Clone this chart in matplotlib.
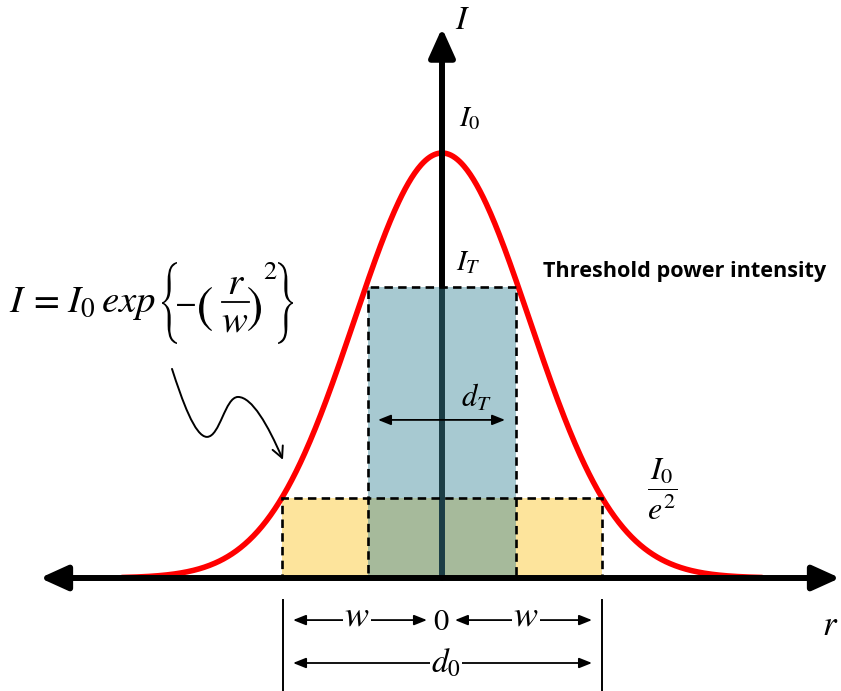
import os
import numpy as np
import matplotlib
matplotlib.use("Agg")
import matplotlib.pyplot as plt
from matplotlib.patches import Rectangle, FancyArrowPatch, PathPatch
from matplotlib.path import Path
from matplotlib.textpath import TextPath
from matplotlib.font_manager import FontProperties
import matplotlib.transforms as mtransforms

plt.rcParams['mathtext.fontset'] = 'stix'

# ---- values (units: r in w, I in I0) ----
w = 1.0                 # beam radius
I0 = 1.0                # peak intensity
beam_scale = 0.775      # Gaussian 1/e width of the drawn curve (in w)
I_T = 0.685             # threshold intensity level
dT_half = 0.4625        # half width of threshold region
I_e2 = 0.188            # level of the I0/e^2 box as drawn
r_range = (-2.0, 2.0)   # extent of the drawn curve

# annotation geometry (data units)
x_axis_ends = (-2.5125, 2.4875)
y_axis_top = 1.294
w_row_y = -0.099
d0_row_y = -0.2
d0_ends = (-0.931, 0.9375)
w_left_ends = (-0.931, -0.094)
w_right_ends = (0.081, 0.9375)
dT_arrow_y = 0.372
dT_arrow_ends = (-0.40, 0.394)
tick_lines_x = (-0.994, 1.0)
tick_lines_y = (-0.052, -0.27)
squiggle = [(-1.6875, 0.492), (-1.625, 0.419), (-1.544, 0.332), (-1.469, 0.332),
            (-1.388, 0.332), (-1.356, 0.426), (-1.275, 0.426),
            (-1.188, 0.426), (-1.088, 0.360), (-0.994, 0.278)]

X_PER_W = 160.0   # layout scale used to place the formula pieces
Y_PER_I = 425.0
X0_PX, Y0_PX = 442.0, 578.0


def lx(p):
    return (p - X0_PX) / X_PER_W


def ly(p):
    return (Y0_PX - p) / Y_PER_I


fig = plt.figure(figsize=(8.41, 6.91), dpi=100)
ax = fig.add_axes([0, 0, 1, 1])
ax.set_xlim(lx(0), lx(841))
ax.set_ylim(ly(691), ly(0))
ax.axis('off')

dash = (0, (3.2, 2.0))

# yellow 1/e^2 box
ax.add_patch(Rectangle((-w, 0), 2 * w, I_e2, facecolor='#fde49c', edgecolor='none', zorder=1))
# curve
r = np.linspace(r_range[0], r_range[1], 600)
I = I0 * np.exp(-(r / beam_scale) ** 2)
ax.plot(r, I, color='#ff0000', lw=4.0, zorder=2, solid_capstyle='round')

# y axis
ax.annotate('', xy=(0, y_axis_top), xytext=(0, 0),
            arrowprops=dict(arrowstyle='-|>,head_length=0.8,head_width=0.36',
                            mutation_scale=22, lw=4.3, color='black',
                            shrinkA=0, shrinkB=0), zorder=3)
# threshold box (translucent)
ax.add_patch(Rectangle((-dT_half, 0), 2 * dT_half, I_T,
                       facecolor=(60 / 255, 136 / 255, 154 / 255, 0.45),
                       edgecolor='none', zorder=4))
# dashed outlines
ax.add_patch(Rectangle((-w, 0), 2 * w, I_e2, fill=False, edgecolor='black',
                       lw=1.9, linestyle=dash, zorder=5))
ax.add_patch(Rectangle((-dT_half, 0), 2 * dT_half, I_T, fill=False, edgecolor='black',
                       lw=1.9, linestyle=dash, zorder=5))
# x axis
ax.annotate('', xy=(x_axis_ends[1], 0), xytext=(x_axis_ends[0], 0),
            arrowprops=dict(arrowstyle='<|-|>,head_length=0.75,head_width=0.34',
                            mutation_scale=22, lw=4.3, color='black',
                            shrinkA=0, shrinkB=0), zorder=6)

small = dict(arrowstyle='<|-|>,head_length=0.55,head_width=0.22', mutation_scale=14,
             lw=1.3, color='black', shrinkA=0, shrinkB=0)
# dT arrow
ax.annotate('', xy=(dT_arrow_ends[1], dT_arrow_y), xytext=(dT_arrow_ends[0], dT_arrow_y),
            arrowprops=small, zorder=7)
# w arrows and d0 arrow
for ends, yy in [(w_left_ends, w_row_y), (w_right_ends, w_row_y), (d0_ends, d0_row_y)]:
    ax.annotate('', xy=(ends[1], yy), xytext=(ends[0], yy), arrowprops=small, zorder=7)
# tick lines
for xx in tick_lines_x:
    ax.plot([xx, xx], list(tick_lines_y), color='black', lw=1.4, zorder=7)

# squiggle arrow
verts = squiggle
codes = [Path.MOVETO] + [Path.CURVE4] * 9
ax.add_patch(FancyArrowPatch(path=Path(verts, codes),
                             arrowstyle='->,head_length=0.5,head_width=0.25',
                             mutation_scale=16, lw=1.4, color='black', zorder=7))

# text
bg = dict(facecolor='white', edgecolor='none', pad=1.0)
ax.text(0.131, 1.313, r'$I$', fontsize=24, ha='center', va='center')
ax.text(0.175, 1.082, r'$I_0$', fontsize=21, ha='center', va='center')
ax.text(0.1625, 0.743, r'$I_T$', fontsize=21, ha='center', va='center')
ax.text(0.631, 0.72, 'Threshold power intensity', fontsize=15.6, fontweight='bold',
        family='Open Sans', ha='left', va='center')
ax.text(0.2125, 0.426, r'$d_T$', fontsize=22, ha='center', va='center', zorder=8)
ax.text(1.375, 0.209, r'$\dfrac{I_0}{e^2}$', fontsize=23, ha='center', va='center')
ax.text(2.425, -0.111, r'$r$', fontsize=25, ha='center', va='center')
ax.text(-0.006, -0.1035, r'$0$', fontsize=22, ha='center', va='center')
ax.text(-0.53, w_row_y + 0.01, r'$w$', fontsize=26, ha='center', va='center', bbox=bg, zorder=8)
ax.text(0.525, w_row_y + 0.01, r'$w$', fontsize=26, ha='center', va='center', bbox=bg, zorder=8)
ax.text(0.025, d0_row_y, r'$d_0$', fontsize=24, ha='center', va='center', bbox=bg, zorder=8)

# ---- formula  I = I0 exp{ -(r/w)^2 } ----
ttf_dir = os.path.join(matplotlib.get_data_path(), 'fonts', 'ttf')
big_font = FontProperties(fname=os.path.join(ttf_dir, 'STIXSizThreeSymReg.ttf'))
reg_font = FontProperties(fname=os.path.join(ttf_dir, 'STIXGeneral.ttf'))


def glyph(ch, prop, x0, x1, y0, y1):
    tp = TextPath((0, 0), ch, size=1, prop=prop)
    bb = tp.get_extents()
    tr = (mtransforms.Affine2D().translate(-bb.x0, -bb.y0)
          .scale((lx(x1) - lx(x0)) / bb.width, (ly(y0) - ly(y1)) / bb.height)
          .translate(lx(x0), ly(y1)) + ax.transData)
    ax.add_patch(PathPatch(tp, transform=tr, facecolor='black', edgecolor='none', zorder=7))


base = ly(312)
ax.text(lx(9), base, r'$I$', fontsize=28, ha='left', va='baseline')
ax.text(lx(44), ly(301), r'$=$', fontsize=27, ha='center', va='center')
ax.text(lx(67), base, r'$I_0$', fontsize=28, ha='left', va='baseline')
ax.text(lx(101), base, r'$exp$', fontsize=28, ha='left', va='baseline')
glyph('{', big_font, 162, 177, 262, 344)
ax.text(lx(185), ly(302), r'$-$', fontsize=23, ha='center', va='center')
glyph('(', reg_font, 199, 212, 287, 331)
ax.text(lx(236), ly(283), r'$r$', fontsize=28, ha='center', va='center')
ax.plot([lx(222), lx(249)], [ly(302), ly(302)], color='black', lw=1.3)
ax.text(lx(235), ly(321), r'$w$', fontsize=28, ha='center', va='center')
glyph(')', reg_font, 248, 261, 287, 331)
ax.text(lx(270), ly(272), r'$2$', fontsize=19, ha='center', va='center')
glyph('}', big_font, 278, 293, 262, 344)

fig.savefig('out.png', dpi=100)
